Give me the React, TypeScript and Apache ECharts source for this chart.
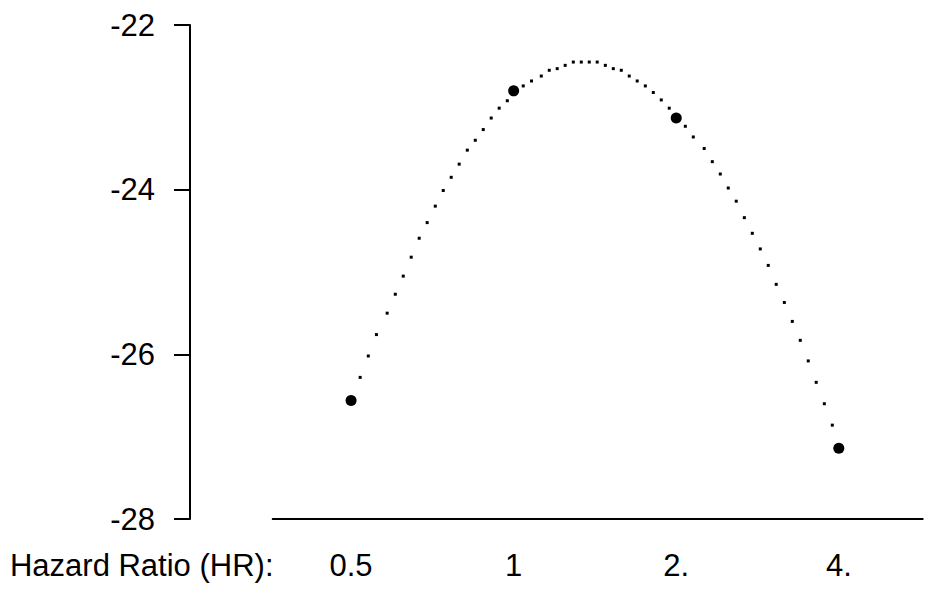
import React, { useEffect, useRef } from "react";
import * as echarts from "echarts";

// Observed points: hazard ratio and value
const pointHR = [0.5, 1, 2, 4];
const pointValue = [-26.56, -22.8, -23.13, -27.14];

// Dotted fitted curve (x as log2 of HR)
const curveLog2HR = [
  -0.944, -0.894, -0.844, -0.778, -0.728, -0.679, -0.63, -0.581, -0.532, -0.482,
  -0.433, -0.384, -0.335, -0.285, -0.236, -0.187, -0.138, -0.089, -0.039, 0.059,
  0.11, 0.17, 0.219, 0.268, 0.317, 0.367, 0.416, 0.465, 0.514, 0.564,
  0.613, 0.662, 0.711, 0.76, 0.81, 0.859, 0.908, 0.957, 1.056, 1.105,
  1.172, 1.222, 1.271, 1.32, 1.369, 1.419, 1.468, 1.517, 1.566, 1.615,
  1.665, 1.714, 1.763, 1.812, 1.861, 1.911, 1.96,
];
const curveValue = [
  -26.28, -26.02, -25.76, -25.5, -25.27, -25.05, -24.82, -24.59, -24.4, -24.2,
  -24.01, -23.85, -23.69, -23.52, -23.4, -23.27, -23.13, -23.01, -22.92, -22.74,
  -22.68, -22.62, -22.55, -22.53, -22.49, -22.45, -22.45, -22.45, -22.45, -22.49,
  -22.53, -22.55, -22.62, -22.68, -22.74, -22.82, -22.91, -23.01, -23.23, -23.36,
  -23.5, -23.66, -23.81, -23.98, -24.14, -24.34, -24.53, -24.72, -24.92, -25.15,
  -25.37, -25.6, -25.83, -26.08, -26.34, -26.6, -26.86,
];

// Axis ticks
const xTickHR = [0.5, 1, 2, 4];
const xTickLabels = ["0.5", "1", "2.", "4."];
const xAxisTitle = "Hazard Ratio (HR):";
const yMin = -28;
const yMax = -22;
const yInterval = 2;
const xLog2Min = -1.482;
const xLog2Max = 2.516;

const FONT = "'Liberation Sans', Arial, Helvetica, sans-serif";

export default function App() {
  const ref = useRef<HTMLDivElement>(null);

  useEffect(() => {
    if (!ref.current) return;
    const chart = echarts.init(ref.current, undefined, { renderer: "svg" });
    const xTickVals = xTickHR.map((h) => Math.log2(h));

    const option = {
      animation: false,
      backgroundColor: "#ffffff",
      grid: { left: 272.7, right: 7.3, top: 25, bottom: 74, containLabel: false },
      xAxis: {
        type: "value",
        min: xLog2Min,
        max: xLog2Max,
        axisLine: { show: true, onZero: false, lineStyle: { color: "#000", width: 2 } },
        axisTick: { show: false },
        splitLine: { show: false },
        axisLabel: {
          customValues: xTickVals,
          margin: 31,
          color: "#000",
          fontSize: 31,
          fontFamily: FONT,
          formatter: (v: number) => {
            const i = xTickVals.findIndex((t) => Math.abs(t - v) < 1e-6);
            return i >= 0 ? xTickLabels[i] : "";
          },
        },
      },
      yAxis: {
        type: "value",
        min: yMin,
        max: yMax,
        interval: yInterval,
        offset: 82.7,
        axisLine: { show: true, onZero: false, lineStyle: { color: "#000", width: 2 } },
        axisTick: { show: true, length: 16, lineStyle: { color: "#000", width: 2 } },
        splitLine: { show: false },
        axisLabel: {
          margin: 35,
          color: "#000",
          fontSize: 31,
          fontFamily: FONT,
        },
      },
      graphic: [
        {
          type: "text",
          x: 273.5,
          y: 565,
          style: {
            text: xAxisTitle,
            fill: "#000",
            fontSize: 31,
            fontFamily: FONT,
            textAlign: "right",
            textVerticalAlign: "middle",
            verticalAlign: "middle",
          },
        },
      ],
      series: [
        {
          type: "scatter",
          symbol: "rect",
          symbolSize: 3,
          itemStyle: { color: "#000", opacity: 1 },
          data: curveLog2HR.map((t, i) => [t, curveValue[i]]),
          z: 2,
          silent: true,
        },
        {
          type: "scatter",
          symbol: "circle",
          symbolSize: 11,
          itemStyle: { color: "#000", opacity: 1 },
          data: pointHR.map((h, i) => [Math.log2(h), pointValue[i]]),
          z: 3,
          silent: true,
        },
      ],
    };
    chart.setOption(option as any);
    return () => chart.dispose();
  }, []);

  return (
    <div
      ref={ref}
      style={{ position: "fixed", left: 0, top: 0, width: 930, height: 593, background: "#fff" }}
    />
  );
}
